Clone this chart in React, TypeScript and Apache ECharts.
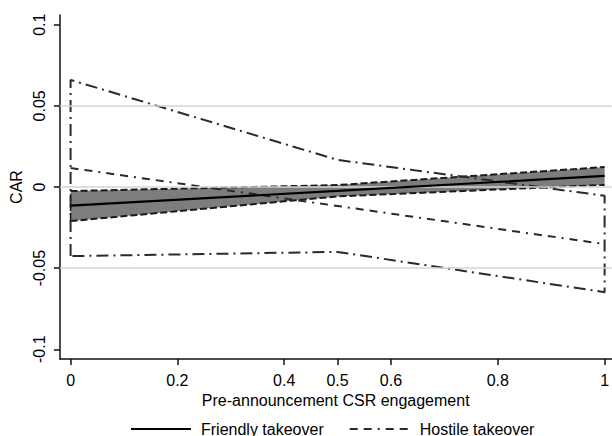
import React, { useEffect, useRef } from "react";
import * as echarts from "echarts";

const xs = [0, 0.5, 1];
const friendlyMean = [-0.0115, -0.0024, 0.0068];
const friendlyLow = [-0.021, -0.0058, 0.0013];
const friendlyHigh = [-0.0025, 0.0012, 0.0123];
const hostileMean = [0.0117, -0.0117, -0.0352];
const hostileLow = [-0.0426, -0.04, -0.0648];
const hostileHigh = [0.066, 0.0167, -0.0054];
const xTicks = [0, 0.2, 0.4, 0.5, 0.6, 0.8, 1];
const yTicks = [-0.1, -0.05, 0, 0.05, 0.1];
const refLines = [-0.05, 0, 0.05];

const FONT = "'Liberation Sans', Arial, Helvetica, sans-serif";

export default function App() {
  const ref = useRef<HTMLDivElement>(null);
  useEffect(() => {
    if (!ref.current) return;
    const chart = echarts.init(ref.current, undefined, { renderer: "svg" });
    const pair = (ys: number[]) => xs.map((x, i) => [x, ys[i]]);
    const hostileOutline: number[][] = [
      [xs[0], hostileLow[0]],
      ...xs.map((x, i) => [x, hostileHigh[i]]),
      ...xs.map((x, i) => [x, hostileLow[i]]).reverse(),
    ];
    const axisText = { color: "#000", fontSize: 16, fontFamily: FONT };
    chart.setOption({
      animation: false,
      textStyle: { fontFamily: FONT },
      grid: { left: 55, right: 0, top: 15, bottom: 77, containLabel: false },
      xAxis: {
        type: "value",
        min: -0.02,
        max: 1.013,
        name: "Pre-announcement CSR engagement",
        nameLocation: "middle",
        nameGap: 24,
        nameTextStyle: axisText,
        axisLine: { show: true, onZero: false, lineStyle: { color: "#111", width: 1.5 } },
        axisTick: { show: true, length: 6, customValues: xTicks, lineStyle: { color: "#111", width: 1.5 } },
        axisLabel: {
          ...axisText,
          margin: 13,
          customValues: xTicks,
          formatter: (v: number) => String(v),
        },
        splitLine: { show: false },
      },
      yAxis: {
        type: "value",
        min: -0.106,
        max: 0.106,
        name: "CAR",
        nameLocation: "middle",
        nameGap: 28,
        nameRotate: 90,
        nameTextStyle: axisText,
        axisLine: { show: true, onZero: false, lineStyle: { color: "#111", width: 1.5 } },
        axisTick: { show: true, length: 6, customValues: yTicks, lineStyle: { color: "#111", width: 1.5 } },
        axisLabel: {
          ...axisText,
          rotate: 90,
          margin: 12,
          customValues: yTicks,
          formatter: (v: number) => String(v),
        },
        splitLine: { show: false },
      },
      legend: {
        data: ["Friendly takeover", "Hostile takeover"],
        left: 130,
        top: 421,
        itemWidth: 60,
        itemHeight: 12,
        itemGap: 25,
        padding: 0,
        itemStyle: { opacity: 0 },
        textStyle: { ...axisText, padding: [0, 0, 0, 5] },
      },
      series: [
        {
          type: "line",
          name: "grid",
          data: [],
          z: 1,
          silent: true,
          markLine: {
            silent: true,
            symbol: "none",
            label: { show: false },
            lineStyle: { color: "#d4d4d4", type: "solid", width: 1.5 },
            data: refLines.map((v) => ({ yAxis: v })),
          },
        },
        {
          type: "custom",
          name: "band",
          z: 2,
          data: xs.map((x, i) => [x, friendlyLow[i], friendlyHigh[i]]),
          encode: { x: 0, y: [1, 2] },
          renderItem: (params: any, api: any) => {
            if (params.dataIndex !== 0) return null;
            const up = xs.map((x, i) => api.coord([x, friendlyHigh[i]]));
            const lo = xs.map((x, i) => api.coord([x, friendlyLow[i]])).reverse();
            return {
              type: "polygon",
              shape: { points: [...up, ...lo] },
              style: { fill: "#7d7d7d", stroke: "none" },
            };
          },
        },
        {
          type: "line",
          name: "fl",
          data: pair(friendlyLow),
          symbol: "none",
          z: 3,
          lineStyle: { color: "#1a1a1a", width: 2, type: [7, 3] },
        },
        {
          type: "line",
          name: "fh",
          data: pair(friendlyHigh),
          symbol: "none",
          z: 3,
          lineStyle: { color: "#1a1a1a", width: 2, type: [7, 3] },
        },
        {
          type: "line",
          name: "fedge",
          data: [
            [xs[0], friendlyLow[0]],
            [xs[0], friendlyHigh[0]],
          ],
          symbol: "none",
          z: 3,
          lineStyle: { color: "#1a1a1a", width: 1.5, type: [7, 3] },
        },
        {
          type: "line",
          name: "Hostile takeover",
          data: pair(hostileMean),
          symbol: "none",
          z: 4,
          lineStyle: { color: "#2a2a2a", width: 2, type: [8, 6, 8, 6, 2, 6] },
          itemStyle: { color: "#2a2a2a" },
        },
        {
          type: "line",
          name: "hci",
          data: hostileOutline,
          symbol: "none",
          z: 4,
          lineStyle: { color: "#2a2a2a", width: 2, type: [12, 5, 2, 5] },
        },
        {
          type: "line",
          name: "Friendly takeover",
          data: pair(friendlyMean),
          symbol: "none",
          z: 5,
          lineStyle: { color: "#000", width: 2.2, type: "solid" },
          itemStyle: { color: "#000" },
        },
      ],
    });
    return () => chart.dispose();
  }, []);
  return <div ref={ref} style={{ width: 612, height: 436, position: "absolute", left: 0, top: 0 }} />;
}
